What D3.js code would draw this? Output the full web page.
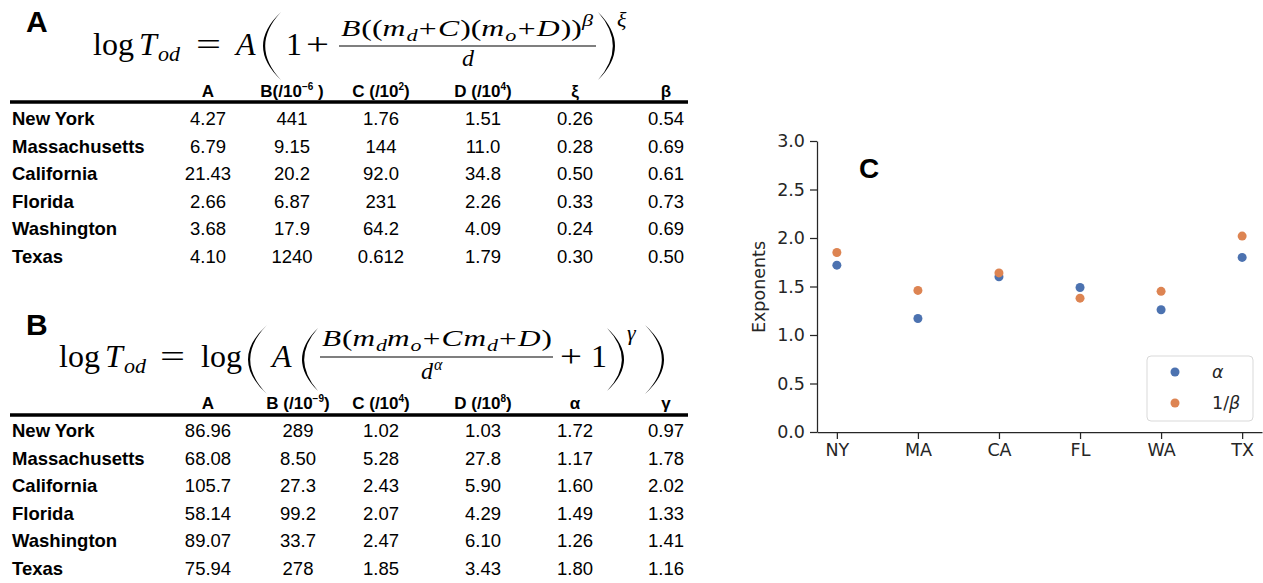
<!DOCTYPE html>
<html>
<head>
<meta charset="utf-8">
<script src="https://cdn.jsdelivr.net/npm/d3@7"></script>
<style>
  body { margin: 0; background: #fff; }
  .tbl text { font-family: "Liberation Sans", Arial, sans-serif; fill: #000; }
  .math text { font-family: "Liberation Serif", "Times New Roman", serif; fill: #000; }
  .chart text { font-family: "DejaVu Sans", sans-serif; fill: #262626; }
</style>
</head>
<body>
<svg id="fig" width="1263" height="583"></svg>
<script>
// states and short codes
var states = ["New York", "Massachusetts", "California", "Florida", "Washington", "Texas"];
var codes = ["NY", "MA", "CA", "FL", "WA", "TX"];

// table A (power law fit), kept as strings to keep the printed digits
var headersA = [[["A", 0]], [["B(/10", 0], ["−6", 1], [" )", 0]], [["C (/10", 0], ["2", 1], [")", 0]],
                [["D (/10", 0], ["4", 1], [")", 0]], [["ξ", 0]], [["β", 0]]];
var aA  = ["4.27", "6.79", "21.43", "2.66", "3.68", "4.10"];
var aB  = ["441", "9.15", "20.2", "6.87", "17.9", "1240"];
var aC  = ["1.76", "144", "92.0", "231", "64.2", "0.612"];
var aD  = ["1.51", "11.0", "34.8", "2.26", "4.09", "1.79"];
var aXi = ["0.26", "0.28", "0.50", "0.33", "0.24", "0.30"];
var aBeta = ["0.54", "0.69", "0.61", "0.73", "0.69", "0.50"];

// table B (log fit)
var headersB = [[["A", 0]], [["B (/10", 0], ["−9", 1], [")", 0]], [["C (/10", 0], ["4", 1], [")", 0]],
                [["D (/10", 0], ["8", 1], [")", 0]], [["α", 0]], [["γ", 0]]];
var bA  = ["86.96", "68.08", "105.7", "58.14", "89.07", "75.94"];
var bB  = ["289", "8.50", "27.3", "99.2", "33.7", "278"];
var bC  = ["1.02", "5.28", "2.43", "2.07", "2.47", "1.85"];
var bD  = ["1.03", "27.8", "5.90", "4.29", "6.10", "3.43"];
var bAlpha = ["1.72", "1.17", "1.60", "1.49", "1.26", "1.80"];
var bGamma = ["0.97", "1.78", "2.02", "1.33", "1.41", "1.16"];

// panel C values
var alpha = [1.72, 1.17, 1.60, 1.49, 1.26, 1.80];
var invBeta = [1.85, 1.46, 1.64, 1.38, 1.45, 2.02];
var yTicks = [0, 0.5, 1.0, 1.5, 2.0, 2.5, 3.0];

var blue = "#4c72b0", orange = "#dd8452";

var svg = d3.select("#fig");

// ---------- panel letters ----------
svg.append("g").selectAll("text")
  .data([["A", 26, 32], ["B", 26, 335], ["C", 859, 178]])
  .enter().append("text")
  .attr("x", d => d[1])
  .attr("y", d => d[2])
  .attr("font-family", "Liberation Sans, Arial, sans-serif")
  .attr("font-weight", "bold")
  .attr("font-size", d => d[0] === "C" ? 28 : 30)
  .text(d => d[0]);

// ---------- tables ----------
function drawTable(headers, cols, colX, headY, lineY, rowY0, rowStep) {
  var g = svg.append("g").attr("class", "tbl");

  headers.forEach(function(h, i) {
    var t = g.append("text")
      .attr("x", colX[i]).attr("y", headY)
      .attr("text-anchor", "middle")
      .attr("font-weight", "bold")
      .attr("font-size", 17);
    h.forEach(function(p) {
      var s = t.append("tspan").text(p[0]);
      if (p[1]) s.attr("font-size", 10).attr("dy", -7);
      else if (t.selectAll("tspan").size() > 1) s.attr("dy", 7);
    });
  });

  g.append("line")
    .attr("x1", 10).attr("x2", 688)
    .attr("y1", lineY).attr("y2", lineY)
    .attr("stroke", "#000").attr("stroke-width", 3.5);

  g.selectAll("text.row")
    .data(states).enter().append("text")
    .attr("class", "row")
    .attr("x", 12)
    .attr("y", (d, i) => rowY0 + i * rowStep)
    .attr("font-weight", "bold")
    .attr("font-size", 18.5)
    .text(d => d);

  cols.forEach(function(col, j) {
    g.selectAll("text.c" + j)
      .data(col).enter().append("text")
      .attr("class", "c" + j)
      .attr("x", colX[j])
      .attr("y", (d, i) => rowY0 + i * rowStep)
      .attr("text-anchor", "middle")
      .attr("font-size", 18.5)
      .text(d => d);
  });
}

drawTable(headersA, [aA, aB, aC, aD, aXi, aBeta], [208, 292, 381, 483, 575, 666], 97, 102, 125, 27.6);
drawTable(headersB, [bA, bB, bC, bD, bAlpha, bGamma], [208, 298, 381, 483, 575, 666], 409, 415, 437, 27.5);

// ---------- formulas ----------
var math = svg.append("g").attr("class", "math");

function mt(s, x, y, fs, it, w) {
  var t = math.append("text")
    .attr("x", x).attr("y", y)
    .attr("font-size", fs)
    .attr("font-style", it ? "italic" : "normal")
    .text(s);
  // stretch wide operators to a tex-like width
  if (w) t.attr("textLength", w).attr("lengthAdjust", "spacingAndGlyphs");
  return t;
}

// thin tex-like parenthesis
function paren(x0, x1, y0, y1, left) {
  var ym = (y0 + y1) / 2, th = 2.2;
  var p;
  if (left) {
    p = "M" + x1 + "," + y0 + " Q" + (2 * x0 - x1) + "," + ym + " " + x1 + "," + y1 +
        " Q" + (2 * (x0 + th) - x1) + "," + ym + " " + x1 + "," + y0 + "Z";
  } else {
    p = "M" + x0 + "," + y0 + " Q" + (2 * x1 - x0) + "," + ym + " " + x0 + "," + y1 +
        " Q" + (2 * (x1 - th) - x0) + "," + ym + " " + x0 + "," + y0 + "Z";
  }
  math.append("path").attr("d", p).attr("fill", "#000");
}

// lay a run of tokens out left to right, then stretch it to a given width
function run(tokens, fs, x0, base, width) {
  var g = math.append("g");
  var x = 0;
  tokens.forEach(function(tk) {
    var size = tk[2] && tk[2] !== "op" ? fs * 0.7 : fs;
    var dy = tk[2] === "sub" ? fs * 0.22 : tk[2] === "sup" ? -fs * 0.42 : 0;
    var pad = tk[2] === "op" ? fs * 0.04 : 0;
    x += pad;
    var t = g.append("text")
      .attr("x", x).attr("y", base + dy)
      .attr("font-size", size)
      .attr("font-style", tk[1] ? "italic" : "normal")
      .text(tk[0]);
    x += t.node().getComputedTextLength() + pad + (tk[1] && !tk[2] ? fs * 0.03 : 0);
  });
  var s = width ? width / x : 1;
  g.attr("transform", "translate(" + x0 + ",0) scale(" + s + ",1)");
  return x * s;
}

// formula A
mt("log", 93, 55, 32, false);
mt("T", 139, 55, 32, true);
mt("od", 158, 61, 22, true);
mt("=", 196, 55, 32, false, 25);
mt("A", 236, 55, 32, true);
paren(263, 281, 12, 80, true);
mt("1", 286, 55, 32, false);
mt("+", 306, 55, 32, false, 23);
run([["B", 1], ["((", 0], ["m", 1], ["d", 1, "sub"], ["+", 0, "op"], ["C", 1], [")(", 0], ["m", 1],
     ["o", 1, "sub"], ["+", 0, "op"], ["D", 1], ["))", 0], ["β", 1, "sup"]], 24, 341, 36, 252);
math.append("line").attr("x1", 339).attr("x2", 596).attr("y1", 46).attr("y2", 46)
  .attr("stroke", "#000").attr("stroke-width", 1.1);
mt("d", 462, 66, 24, true);
paren(598, 615, 12, 80, false);
mt("ξ", 617, 27, 22, true);

// formula B
mt("log", 59, 367, 32, false);
mt("T", 105, 367, 32, true);
mt("od", 124, 373, 22, true);
mt("=", 160, 367, 32, false, 25);
mt("log", 201, 367, 32, false);
paren(248, 267, 325, 394, true);
mt("A", 272, 367, 32, true);
paren(302, 318, 328, 391, true);
run([["B", 1], ["(", 0], ["m", 1], ["d", 1, "sub"], ["m", 1], ["o", 1, "sub"], ["+", 0, "op"], ["C", 1],
     ["m", 1], ["d", 1, "sub"], ["+", 0, "op"], ["D", 1], [")", 0]], 24, 322, 346, 230);
math.append("line").attr("x1", 320).attr("x2", 553).attr("y1", 357).attr("y2", 357)
  .attr("stroke", "#000").attr("stroke-width", 1.1);
mt("d", 421, 379, 24, true);
mt("α", 434, 370, 16, true);
mt("+", 560, 367, 32, false, 22);
mt("1", 591, 367, 32, false);
paren(607, 624, 328, 391, false);
mt("γ", 627, 340, 22, true);
paren(645, 664, 325, 394, false);

// ---------- panel C ----------
var chart = svg.append("g").attr("class", "chart");

var x = d3.scalePoint().domain(codes).range([817, 1262]).padding(0.245);
var y = d3.scaleLinear().domain([0, 3]).range([432, 141]);

var xAxis = chart.append("g")
  .attr("transform", "translate(0,432)")
  .call(d3.axisBottom(x).tickSize(7).tickSizeOuter(0).tickPadding(5));
var yAxis = chart.append("g")
  .attr("transform", "translate(817,0)")
  .call(d3.axisLeft(y).tickValues(yTicks).tickFormat(d3.format(".1f"))
    .tickSize(7).tickSizeOuter(0).tickPadding(5));

[xAxis, yAxis].forEach(function(a) {
  a.selectAll("path, line").attr("stroke", "#262626").attr("stroke-width", 1.25);
  a.selectAll("text").attr("font-size", 17.5).attr("fill", "#262626")
    .attr("font-family", "DejaVu Sans, sans-serif");
});

chart.append("text")
  .attr("transform", "translate(765,287) rotate(-90)")
  .attr("text-anchor", "middle")
  .attr("font-size", 17.5)
  .text("Exponents");

chart.selectAll("circle.alpha")
  .data(alpha).enter().append("circle")
  .attr("class", "alpha")
  .attr("cx", (d, i) => x(codes[i]))
  .attr("cy", d => y(d))
  .attr("r", 4.5)
  .attr("fill", blue);

chart.selectAll("circle.ib")
  .data(invBeta).enter().append("circle")
  .attr("class", "ib")
  .attr("cx", (d, i) => x(codes[i]))
  .attr("cy", d => y(d))
  .attr("r", 4.5)
  .attr("fill", orange);

// legend
var legend = chart.append("g");
legend.append("rect")
  .attr("x", 1147).attr("y", 356).attr("width", 106).attr("height", 65)
  .attr("rx", 4).attr("fill", "#fff").attr("fill-opacity", 0.8)
  .attr("stroke", "#d9d9d9").attr("stroke-width", 1);
legend.append("circle").attr("cx", 1175).attr("cy", 372).attr("r", 4.5).attr("fill", blue);
legend.append("circle").attr("cx", 1175).attr("cy", 403).attr("r", 4.5).attr("fill", orange);
legend.append("text").attr("x", 1212).attr("y", 378).attr("font-size", 17.5)
  .attr("font-style", "italic").text("α");
var lb = legend.append("text").attr("x", 1212).attr("y", 409).attr("font-size", 17.5);
lb.append("tspan").text("1/");
lb.append("tspan").attr("font-style", "italic").text("β");
</script>
</body>
</html>
